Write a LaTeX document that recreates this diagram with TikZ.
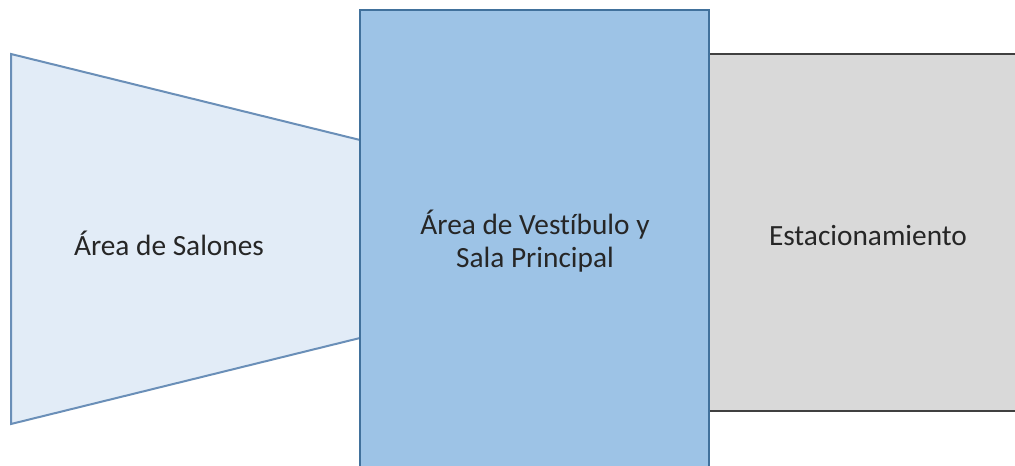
\documentclass[tikz,border=0pt]{standalone}
\usepackage{fontspec}
\setmainfont{Carlito}[Ligatures=NoCommon]
\definecolor{lightfill}{HTML}{E2ECF7}
\definecolor{lightline}{HTML}{6A8FB8}
\definecolor{midfill}{HTML}{9DC3E6}
\definecolor{midline}{HTML}{41719C}
\definecolor{grayfill}{HTML}{D9D9D9}
\definecolor{grayline}{HTML}{404040}
\begin{document}
\begin{tikzpicture}[x=0.75pt,y=-0.75pt,
  zone/.style={line width=1.5pt},
  lbl/.style={font=\fontsize{22}{25}\selectfont, text=black!85, align=center}]
\useasboundingbox (0,0) rectangle (1015,466);
\fill[white] (0,0) rectangle (1015,466);
% trapezoid
\draw[zone, fill=lightfill, draw=lightline] (11,54) -- (360,140) -- (360,338) -- (11,424) -- cycle;
% right rect
\draw[zone, fill=grayfill, draw=grayline] (1030,54) -- (709,54) -- (709,411) -- (1030,411);
% middle rect
\draw[zone, fill=midfill, draw=midline] (360,480) -- (360,10) -- (709,10) -- (709,480);
\node[lbl] (salones) at (169,243) {Área de Salones};
\node[lbl] (vestibulo) at (535,241) {Área de Vestíbulo y\\Sala Principal};
\node[lbl] (estac) at (868,236) {Estacionamiento};
\end{tikzpicture}
\end{document}
